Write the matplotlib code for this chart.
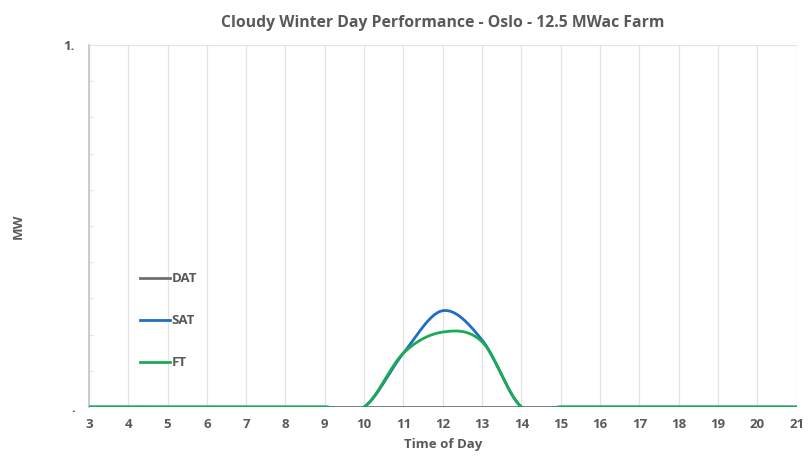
import matplotlib
matplotlib.use("Agg")
import matplotlib.pyplot as plt
import numpy as np

plt.rcParams['font.family'] = ['Open Sans', 'DejaVu Sans']

hours = [3, 4, 5, 6, 7, 8, 9, 10, 11, 12, 13, 14, 15, 16, 17, 18, 19, 20, 21]
dat = [0] * 19
sat = [0, 0, 0, 0, 0, 0, 0, 0, 0.149, 0.266, 0.185, 0, 0, 0, 0, 0, 0, 0, 0]
ft = [0, 0, 0, 0, 0, 0, 0, 0, 0.149, 0.207, 0.180, 0, 0, 0, 0, 0, 0, 0, 0]

TEXT = '#595959'


# smooth line like the spreadsheet "smoothed line" option (catmull-rom)
def smooth(x, y, n=30):
    x = np.asarray(x, float)
    y = np.asarray(y, float)
    xs, ys = [], []
    for i in range(len(x) - 1):
        m0 = (y[i + 1] - y[i - 1]) / 2 if i > 0 else 0.0
        m1 = (y[i + 2] - y[i]) / 2 if i + 2 < len(x) else 0.0
        t = np.linspace(0, 1, n, endpoint=False)
        h00 = 2 * t**3 - 3 * t**2 + 1
        h10 = t**3 - 2 * t**2 + t
        h01 = -2 * t**3 + 3 * t**2
        h11 = t**3 - t**2
        xs += list(x[i] + t * (x[i + 1] - x[i]))
        ys += list(h00 * y[i] + h10 * m0 + h01 * y[i + 1] + h11 * m1)
    xs.append(x[-1])
    ys.append(y[-1])
    return xs, ys


fig = plt.figure(figsize=(8.08, 4.59), dpi=100)
ax = fig.add_axes([0.110, 0.1133, 0.876, 0.7887])

ax.plot(*smooth(hours, dat), color='#707070', lw=2, label='DAT', zorder=3)
ax.plot(*smooth(hours, sat), color='#1f6fc0', lw=2, label='SAT', zorder=4)
ax.plot(*smooth(hours, ft), color='#1aab54', lw=2, label='FT', zorder=5)

ax.set_xlim(3, 21)
ax.set_ylim(0, 1)
ax.set_xticks(hours)
ax.set_yticks([0, 1])
ax.set_yticklabels(['.', '1.'])
ax.set_yticks(np.arange(0.1, 1.0, 0.1), minor=True)
ax.grid(axis='x', color='#e3e3e3', lw=0.9)
ax.axhline(1, color='#e3e3e3', lw=0.9, zorder=1)

for s in ['top', 'right', 'bottom']:
    ax.spines[s].set_visible(False)
ax.spines['left'].set_color('#c4c4c4')
ax.spines['left'].set_linewidth(1.2)

ax.tick_params(axis='x', length=0, pad=8, labelsize=9.5, labelcolor=TEXT)
ax.tick_params(axis='y', which='major', length=0, pad=10, labelsize=9.5, labelcolor=TEXT)
ax.tick_params(axis='y', which='minor', direction='in', length=3, color='#dddddd')
for lab in ax.get_xticklabels() + ax.get_yticklabels():
    lab.set_fontweight('bold')

ax.set_xlabel('Time of Day', fontsize=9.5, fontweight='bold', color=TEXT, labelpad=5)
ax.set_ylabel('MW', fontsize=9.5, fontweight='bold', color=TEXT, labelpad=28)
ax.set_title('Cloudy Winter Day Performance - Oslo - 12.5 MWac Farm',
             fontsize=11.3, fontweight='bold', color=TEXT, pad=13)

leg = ax.legend(loc='upper left', bbox_to_anchor=(0.055, 0.405), frameon=False,
                labelspacing=2.2, handlelength=2.3, handletextpad=0.1,
                prop={'weight': 'bold', 'size': 9.5})
for t in leg.get_texts():
    t.set_color(TEXT)

fig.savefig('out.png', dpi=100)
